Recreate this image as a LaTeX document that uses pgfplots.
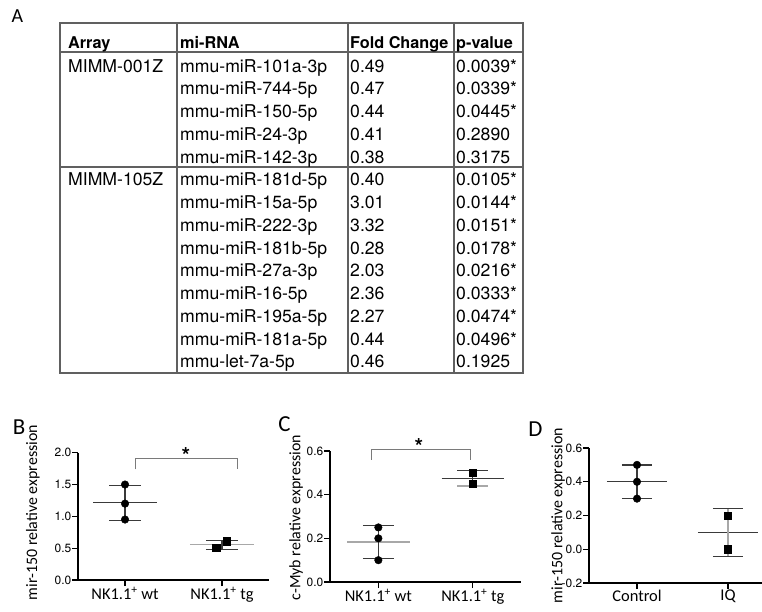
\documentclass[border=0pt]{standalone}
\usepackage{fontspec}
\setmainfont{TeX Gyre Heros}
\newfontfamily\cali{Carlito}
\usepackage{pgfplots}
\pgfplotsset{compat=1.18}

\definecolor{dk}{HTML}{3A3A3A}
\definecolor{lt}{HTML}{A8A8A8}
\definecolor{rule}{HTML}{606060}
\definecolor{brk}{HTML}{7A7A7A}

\newcommand\tf{\fontsize{17.7}{20}\selectfont}
\newcommand\thd{\fontsize{16.3}{20}\selectfont\bfseries}

\pgfplotsset{
  dot/.style={
    scale only axis, clip=false,
    axis lines=left, axis line style={-, line width=1.4bp, black},
    tick align=outside, major tick length=6bp,
    tick style={line width=1.2bp, black},
    xtick={1,2},
    /pgf/number format/assume math mode=true,
    xticklabel style={font=\cali\fontsize{16.5}{18}\selectfont, inner sep=1bp},
    yticklabel style={font=\fontsize{12}{14}\selectfont, inner sep=0.5bp,
      /pgf/number format/fixed, /pgf/number format/fixed zerofill,
      /pgf/number format/precision=1},
    every axis y label/.style={rotate=90, anchor=center,
      font=\cali\fontsize{16}{18}\selectfont},
  },
  mn/.style={line width=1.3bp},
}

\begin{document}
\begin{tikzpicture}
\useasboundingbox (0,0) rectangle (762bp,-612bp);

\begin{scope}[x=1bp, y=-1bp]
  % panel letters
  \node[font=\cali\fontsize{20}{22}\selectfont] at (17.5,16.5) {A};
  \node[font=\cali\fontsize{23}{24}\selectfont] at (19,427.5) {B};
  \node[font=\cali\fontsize{23}{24}\selectfont] at (284.5,424) {C};
  \node[font=\cali\fontsize{23}{24}\selectfont] at (535.5,429) {D};

  % table
  \draw[rule, line width=1.2bp] (60,23) rectangle (523,373);
  \draw[rule, line width=1.2bp] (60,52) -- (523,52);
  \draw[rule, line width=1.2bp] (60,167) -- (523,167);
  \draw[rule, line width=1.2bp] (177,23) -- (177,373);
  \draw[rule, line width=1.4bp] (348,23) -- (348,373);
  \draw[rule, line width=1.2bp] (454,23) -- (454,373);

  \node[anchor=base west, inner sep=0, font=\thd] at (68,48) {Array};
  \node[anchor=base west, inner sep=0, font=\thd] at (180,48) {mi-RNA};
  \node[anchor=base west, inner sep=0, font=\thd] at (350,48) {Fold Change};
  \node[anchor=base west, inner sep=0, font=\thd] at (456,48) {p-value};

  \node[anchor=base west, inner sep=0, font=\tf] at (68,72) {MIMM-001Z};
  \node[anchor=base west, inner sep=0, font=\tf] at (68,185.75) {MIMM-105Z};

  \foreach \n/\f/\p [count=\i from 0] in {
      mmu-miR-101a-3p/0.49/0.0039*,
      mmu-miR-744-5p/0.47/0.0339*,
      mmu-miR-150-5p/0.44/0.0445*,
      mmu-miR-24-3p/0.41/0.2890,
      mmu-miR-142-3p/0.38/0.3175,
      mmu-miR-181d-5p/0.40/0.0105*,
      mmu-miR-15a-5p/3.01/0.0144*,
      mmu-miR-222-3p/3.32/0.0151*,
      mmu-miR-181b-5p/0.28/0.0178*,
      mmu-miR-27a-3p/2.03/0.0216*,
      mmu-miR-16-5p/2.36/0.0333*,
      mmu-miR-195a-5p/2.27/0.0474*,
      mmu-miR-181a-5p/0.44/0.0496*,
      mmu-let-7a-5p/0.46/0.1925} {
    \pgfmathsetmacro\yy{72+22.75*\i}
    \node[anchor=base west, inner sep=0, font=\tf] at (180,\yy) {\n};
    \node[anchor=base west, inner sep=0, font=\tf] at (350,\yy) {\f};
    \node[anchor=base west, inner sep=0, font=\tf] at (456,\yy) {\p};
  }

  % significance stars
  \node[font=\bfseries\fontsize{22}{22}\selectfont] at (186,456) {*};
  \node[font=\bfseries\fontsize{22}{22}\selectfont] at (419,447) {*};
\end{scope}

% ---- B ----
\begin{axis}[dot, at={(78bp,-580bp)}, anchor=south west,
  width=191bp, height=127.3bp,
  xmin=0.515, xmax=2.485, ymin=0, ymax=2,
  ytick={0,0.5,1,1.5,2},
  xticklabels={NK1.1\textsuperscript{+} wt, NK1.1\textsuperscript{+} tg},
  ylabel={mir-150 relative expression},
  ylabel style={at={(rel axis cs:-0.236,0.53)}}]
\addplot[brk, line width=1bp] coordinates {(1.113,1.74)(1.113,1.905)(2.155,1.905)(2.155,1.74)};
\addplot[dk, mn] coordinates {(0.67,1.217)(1.33,1.217)};
\addplot[dk, mn] coordinates {(0.835,1.49)(1.165,1.49)};
\addplot[dk, mn] coordinates {(0.835,0.94)(1.165,0.94)};
\addplot[dk, mn] coordinates {(1,0.94)(1,1.49)};
\addplot[lt, mn] coordinates {(1.67,0.555)(2.33,0.555)};
\addplot[dk, mn] coordinates {(1.835,0.62)(2.165,0.62)};
\addplot[dk, mn] coordinates {(1.835,0.48)(2.165,0.48)};
\addplot[dk, mn] coordinates {(2,0.48)(2,0.62)};
\addplot[only marks, mark=*, mark size=3.8bp, black] coordinates {(1,1.5)(1,1.2)(1,0.95)};
\addplot[only marks, mark=square*, mark size=3.6bp, black] coordinates {(1.94,0.51)(2.05,0.61)};
\end{axis}

% ---- C ----
\begin{axis}[dot, at={(330bp,-582bp)}, anchor=south west,
  width=191bp, height=131bp,
  xmin=0.488, xmax=2.51, ymin=0, ymax=0.6,
  ytick={0,0.2,0.4,0.6},
  xticklabels={NK1.1\textsuperscript{+} wt, NK1.1\textsuperscript{+} tg},
  ylabel={c-Myb relative expression},
  ylabel style={at={(rel axis cs:-0.178,0.49)}}]
\addplot[brk, line width=1bp] coordinates {(0.923,0.56)(0.923,0.607)(1.98,0.607)(1.98,0.56)};
\addplot[lt, mn] coordinates {(0.67,0.183)(1.33,0.183)};
\addplot[dk, mn] coordinates {(0.835,0.26)(1.165,0.26)};
\addplot[dk, mn] coordinates {(0.835,0.107)(1.165,0.107)};
\addplot[dk, mn] coordinates {(1,0.107)(1,0.26)};
\addplot[dk, mn] coordinates {(1.67,0.475)(2.33,0.475)};
\addplot[dk, mn] coordinates {(1.835,0.51)(2.165,0.51)};
\addplot[lt, mn] coordinates {(1.835,0.44)(2.165,0.44)};
\addplot[dk, mn] coordinates {(2,0.44)(2,0.51)};
\addplot[only marks, mark=*, mark size=3.8bp, black] coordinates {(1,0.25)(1,0.2)(1,0.1)};
\addplot[only marks, mark=square*, mark size=3.6bp, black] coordinates {(2,0.5)(2,0.45)};
\end{axis}

% ---- D ----
\begin{axis}[dot, at={(589bp,-583bp)}, anchor=south west,
  width=184.5bp, height=135bp,
  xmin=0.4725, xmax=2.5, ymin=-0.2, ymax=0.6,
  ytick={-0.2,0,0.2,0.4,0.6},
  xticklabels={Control, IQ},
  ylabel={mir-150 relative expression},
  ylabel style={at={(rel axis cs:-0.168,0.5)}}]
\addplot[dk, mn] coordinates {(0.67,0.4)(1.33,0.4)};
\addplot[dk, mn] coordinates {(0.835,0.5)(1.165,0.5)};
\addplot[dk, mn] coordinates {(0.835,0.3)(1.165,0.3)};
\addplot[dk, mn] coordinates {(1,0.3)(1,0.5)};
\addplot[dk, mn] coordinates {(1.67,0.1)(2.33,0.1)};
\addplot[dk, mn] coordinates {(1.835,0.241)(2.165,0.241)};
\addplot[dk, mn] coordinates {(1.835,-0.041)(2.165,-0.041)};
\addplot[lt, mn] coordinates {(2,-0.041)(2,0.241)};
\addplot[only marks, mark=*, mark size=3.8bp, black] coordinates {(1,0.5)(1,0.4)(1,0.3)};
\addplot[only marks, mark=square*, mark size=3.6bp, black] coordinates {(2,0.2)(2,0)};
\end{axis}
\end{tikzpicture}
\end{document}
